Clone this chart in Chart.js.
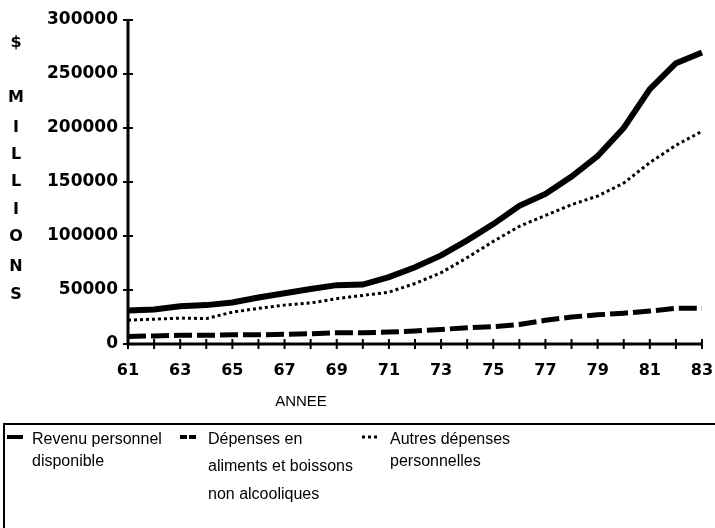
<!DOCTYPE html>
<html>
<head>
<meta charset="utf-8">
<script src="https://cdn.jsdelivr.net/npm/chart.js@4.4.0/dist/chart.umd.min.js"></script>
<style>
  body { margin: 0; background: #fff; }
  #wrap { width: 715px; height: 528px; }
</style>
</head>
<body>
<div id="wrap"><canvas id="depenses" width="715" height="528"></canvas></div>
<script>
// Years 1961 - 1983
const years = ['61','62','63','64','65','66','67','68','69','70','71','72','73','74','75','76','77','78','79','80','81','82','83'];

// $ millions
const revenu = [31000, 32000, 35000, 36000, 38500, 43000, 47000, 51000, 54500, 55000, 62000, 71000,
  82000, 96000, 111000, 128000, 139000, 155000, 174000, 200000, 236000, 260000, 270000];
const aliments = [7000, 7500, 8000, 8000, 8500, 8500, 9000, 9500, 10500, 10500, 11000, 12000,
  13500, 15000, 16000, 18000, 22000, 25000, 27000, 28500, 30500, 33000, 33000];
const autres = [22000, 23000, 24000, 23500, 29500, 33000, 36000, 38000, 42000, 45000, 48000, 56000,
  66000, 80000, 95000, 109000, 119000, 129000, 137000, 149000, 168000, 184000, 197000];

const yTicks = [0, 50000, 100000, 150000, 200000, 250000, 300000];
const yTitle = ['$', '', 'M', 'I', 'L', 'L', 'I', 'O', 'N', 'S'];
const legendItems = [
  { lines: ['Revenu personnel', 'disponible'] },
  { lines: ['Dépenses en', 'aliments et boissons', 'non alcooliques'] },
  { lines: ['Autres dépenses', 'personnelles'] }
];

// axes and tick marks that cross the axis line
const axes_plugin = {
  id: 'axes_plugin',
  beforeDatasetsDraw(chart) {
    const ctx = chart.ctx;
    const { left, right, top, bottom } = chart.chartArea;
    const x = chart.scales.x, y = chart.scales.y;
    ctx.save();
    ctx.strokeStyle = '#000';
    ctx.lineWidth = 3;
    ctx.beginPath();
    ctx.moveTo(left, top - 1);
    ctx.lineTo(left, bottom);
    ctx.lineTo(right, bottom);
    ctx.stroke();

    ctx.lineWidth = 2;
    ctx.beginPath();
    years.forEach((yr, i) => {
      const px = x.getPixelForValue(i);
      ctx.moveTo(px, bottom - 5);
      ctx.lineTo(px, bottom + 5);
    });
    yTicks.forEach((v) => {
      const py = y.getPixelForValue(v);
      ctx.moveTo(left - 5, py);
      ctx.lineTo(left + 5, py);
    });
    ctx.stroke();
    ctx.restore();
  }
};

// axis titles and the boxed legend at the bottom
const labels_plugin = {
  id: 'labels_plugin',
  afterDraw(chart) {
    const ctx = chart.ctx;
    const sets = chart.data.datasets;
    ctx.save();
    ctx.fillStyle = '#000';
    ctx.textBaseline = 'middle';

    // vertical "$ MILLIONS"
    ctx.textAlign = 'center';
    ctx.font = 'bold 16px "DejaVu Sans", sans-serif';
    const titleY = [43, 70, 98, 128, 155, 182, 210, 237, 267, 295];
    yTitle.forEach((ch, i) => { if (ch) ctx.fillText(ch, 16, titleY[i]); });

    // x axis title
    ctx.font = '15px "Liberation Sans Narrow", "Liberation Sans", sans-serif';
    ctx.fillText('ANNEE', 301, 402);

    // legend box
    ctx.strokeStyle = '#000';
    ctx.lineWidth = 2;
    ctx.beginPath();
    ctx.moveTo(4, 540);
    ctx.lineTo(4, 424);
    ctx.lineTo(720, 424);
    ctx.stroke();

    const sampleX = [7, 180, 362];
    const textX = [32, 208, 390];
    const lineY = [[440, 462], [440, 467, 495], [440, 462]];
    ctx.textAlign = 'left';
    ctx.font = '16px "Liberation Sans", Arial, sans-serif';
    legendItems.forEach((item, i) => {
      const ds = sets[i];
      ctx.save();
      ctx.lineWidth = Math.min(ds.borderWidth, 4);
      ctx.setLineDash(i === 1 ? [7, 2] : (ds.borderDash || []));
      ctx.beginPath();
      ctx.moveTo(sampleX[i], 437);
      ctx.lineTo(sampleX[i] + 16, 437);
      ctx.stroke();
      ctx.restore();
      item.lines.forEach((t, j) => ctx.fillText(t, textX[i], lineY[i][j]));
    });
    ctx.restore();
  }
};

const ctx = document.getElementById('depenses');
const chart = new Chart(ctx, {
  type: 'line',
  data: {
    labels: years,
    datasets: [
      { label: 'Revenu personnel disponible', data: revenu, borderColor: '#000', borderWidth: 6 },
      { label: 'Dépenses en aliments et boissons non alcooliques', data: aliments, borderColor: '#000', borderWidth: 5, borderDash: [18, 5] },
      { label: 'Autres dépenses personnelles', data: autres, borderColor: '#000', borderWidth: 3, borderDash: [3, 3] }
    ]
  },
  options: {
    responsive: false,
    animation: false,
    elements: { point: { radius: 0 }, line: { tension: 0, borderCapStyle: 'butt' } },
    layout: { padding: { top: 20, right: 13, left: 0, bottom: 0 } },
    plugins: { legend: { display: false }, tooltip: { enabled: false } },
    scales: {
      x: {
        offset: false,
        grid: { display: false },
        border: { display: false },
        afterFit: (scale) => {
          scale.height = 184;
          scale.paddingLeft = 0;
          scale.paddingRight = 0;
        },
        ticks: {
          autoSkip: false,
          maxRotation: 0,
          padding: 9,
          color: '#000',
          font: { family: 'DejaVu Sans', weight: 'bold', size: 16 },
          callback: (v, i) => (i % 2 === 0 ? years[i] : '')
        }
      },
      y: {
        min: 0,
        max: 300000,
        grid: { display: false },
        border: { display: false },
        afterFit: (scale) => {
          scale.width = 128;
          scale.paddingTop = 0;
          scale.paddingBottom = 0;
        },
        ticks: {
          stepSize: 50000,
          padding: 2,
          color: '#000',
          font: { family: 'DejaVu Sans', weight: 'bold', size: 17 },
          callback: (v) => String(v)
        }
      }
    }
  },
  plugins: [axes_plugin, labels_plugin]
});
</script>
</body>
</html>
